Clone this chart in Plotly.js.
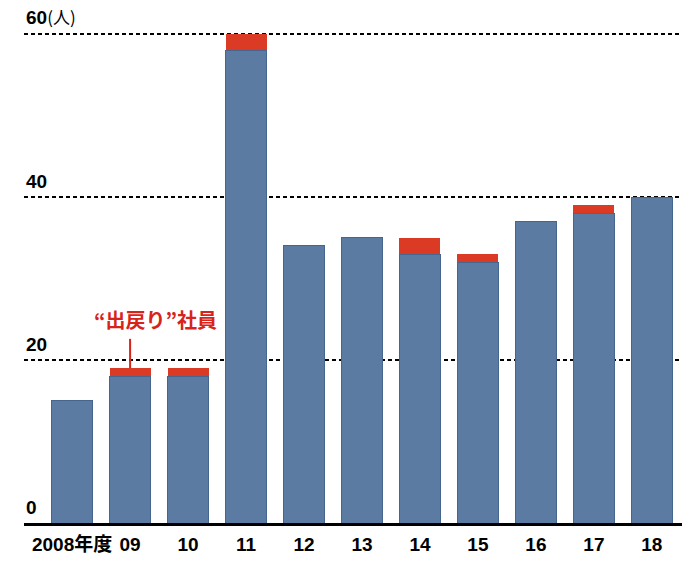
<!DOCTYPE html>
<html>
<head>
<meta charset="utf-8">
<script src="https://cdn.plot.ly/plotly-3.0.1.min.js"></script>
<style>
html,body{margin:0;padding:0;background:#fff;}
#chart{width:700px;height:580px;}
</style>
</head>
<body>
<div id="chart"></div>
<script>
// Data
var categories = ['2008年度', '09', '10', '11', '12', '13', '14', '15', '16', '17', '18'];
var regularHires = [15, 18, 18, 58, 34, 35, 33, 32, 37, 38, 40];
var returnees = [0, 1, 1, 2, 0, 0, 2, 1, 0, 1, 0];
var yTickValues = [0, 20, 40, 60];
var yTickLabels = ['0', '20', '40', '60<span style="font-weight:normal;font-size:17px;font-family:Noto Sans CJK JP;">(人)</span>'];
var calloutLabel = '“出戻り”社員';
var calloutIndex = 1;

var FONT = 'Liberation Sans Narrow, Liberation Sans, Noto Sans CJK JP, sans-serif';
var BLUE = '#5b7ba2';
var RED = '#db3b24';

var traces = [
  {
    type: 'bar',
    x: categories,
    y: regularHires,
    marker: {color: BLUE, line: {color: '#46658f', width: 1}},
    hoverinfo: 'skip'
  },
  {
    type: 'bar',
    x: categories,
    y: returnees.map(function (v) { return v > 0 ? v : null; }),
    marker: {color: RED, line: {width: 0}},
    hoverinfo: 'skip'
  }
];

var calloutTop = regularHires[calloutIndex] + returnees[calloutIndex];
var calloutEnd = calloutTop + 3.6;

var tickFont = {family: FONT, size: 19, color: '#000', weight: 'bold'};

var annotations = yTickValues.map(function (v, i) {
  return {
    xref: 'paper', x: 0, xanchor: 'left',
    yref: 'y', y: v, yanchor: 'bottom', yshift: 3,
    text: yTickLabels[i],
    showarrow: false,
    font: tickFont
  };
});
annotations.push({
  xref: 'x', x: calloutIndex, xshift: 25,
  yref: 'y', y: calloutEnd, yanchor: 'bottom', yshift: 3,
  text: calloutLabel,
  showarrow: false,
  font: {family: 'Noto Sans CJK JP, sans-serif', size: 20, color: '#d8231a', weight: 'bold'}
});

var layout = {
  width: 700,
  height: 580,
  margin: {l: 24, r: 18, t: 30, b: 57},
  paper_bgcolor: '#fff',
  plot_bgcolor: '#fff',
  barmode: 'stack',
  bargap: 0.293,
  showlegend: false,
  xaxis: {
    type: 'category',
    range: [-0.83, 10.52],
    showgrid: false,
    zeroline: false,
    showline: true,
    linecolor: '#000',
    linewidth: 2.6,
    ticks: '',
    ticklabelstandoff: 3,
    tickfont: tickFont,
    fixedrange: true
  },
  yaxis: {
    range: [0, 60.5],
    tickvals: [20, 40, 60],
    showticklabels: false,
    showgrid: true,
    gridcolor: '#000',
    gridwidth: 1.2,
    griddash: '4px,3px',
    zeroline: false,
    showline: false,
    ticks: '',
    fixedrange: true
  },
  shapes: [{
    type: 'line',
    xref: 'x', x0: calloutIndex, x1: calloutIndex,
    yref: 'y', y0: calloutTop, y1: calloutEnd,
    line: {color: '#d8231a', width: 2}
  }],
  annotations: annotations
};

Plotly.newPlot('chart', traces, layout, {displayModeBar: false, staticPlot: true});
</script>
</body>
</html>
